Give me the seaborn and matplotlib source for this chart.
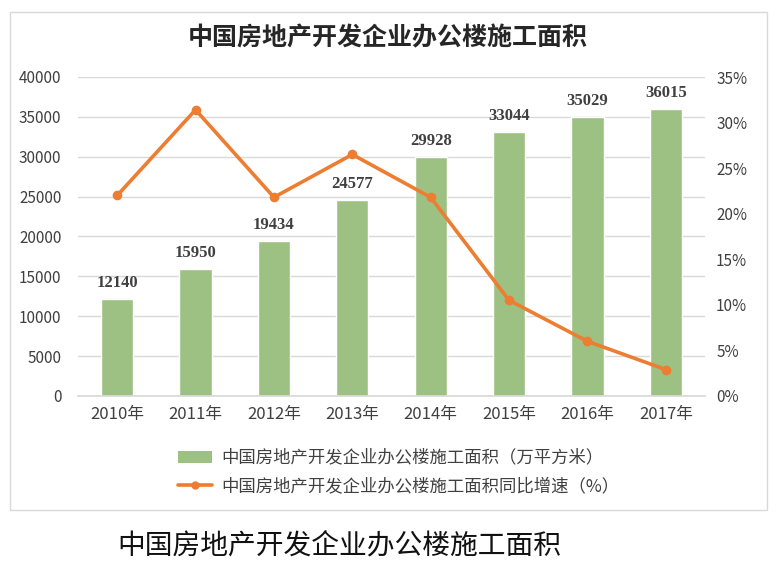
import matplotlib
matplotlib.use("Agg")
import matplotlib.pyplot as plt
import seaborn as sns
import pandas as pd
from matplotlib.patches import Rectangle, Patch
from matplotlib.lines import Line2D
from matplotlib.ticker import FuncFormatter, MultipleLocator

years = ["2010年", "2011年", "2012年", "2013年", "2014年", "2015年", "2016年", "2017年"]
area = [12140, 15950, 19434, 24577, 29928, 33044, 35029, 36015]
growth = [22.0, 31.4, 21.8, 26.5, 21.8, 10.5, 6.0, 2.9]

title = "中国房地产开发企业办公楼施工面积"
bar_label = "中国房地产开发企业办公楼施工面积（万平方米）"
line_label = "中国房地产开发企业办公楼施工面积同比增速（%）"

sns.set_theme(style="white")
plt.rcParams['font.family'] = ['Noto Sans CJK SC', 'DejaVu Sans']

GREEN = "#9DC183"
ORANGE = "#ED7D31"
GRID = "#D9D9D9"

df = pd.DataFrame({"year": years, "area": area, "growth": growth})

fig = plt.figure(figsize=(7.76, 5.71), dpi=100)
# outer chart frame
fig.patches.append(Rectangle((10/776, 1-510/571), 757/776, 498/571, transform=fig.transFigure,
                             fill=False, edgecolor="#D9D9D9", linewidth=1.0))

ax = fig.add_axes([78/776, 1-396/571, 627/776, 319/571])
sns.barplot(data=df, x="year", y="area", color=GREEN, width=0.41, ax=ax, saturation=1)
ax.set_ylim(0, 40000)
ax.yaxis.set_major_locator(MultipleLocator(5000))
ax.grid(axis="y", color=GRID, linewidth=1.0)
ax.set_axisbelow(True)
for s in ["top", "left", "right"]:
    ax.spines[s].set_visible(False)
ax.spines["bottom"].set_color(GRID)
ax.set_xlabel("")
ax.set_ylabel("")
ax.tick_params(axis="y", length=0, labelsize=11, pad=12, colors="#404040")
ax.tick_params(axis="x", length=0, labelsize=12, pad=7, colors="#404040")

for i, v in enumerate(area):
    ax.text(i, v + 1000, f"{v}", ha="center", va="bottom", fontsize=12, fontweight="bold",
            family=["Liberation Serif"], color="#404040")

ax2 = ax.twinx()
sns.pointplot(data=df, x="year", y="growth", color=ORANGE, ax=ax2, markers="o",
              markersize=5, linewidth=2.6)
ax2.set_ylim(0, 35)
ax2.yaxis.set_major_locator(MultipleLocator(5))
ax2.yaxis.set_major_formatter(FuncFormatter(lambda v, p: f"{int(v)}%"))
for s in ["top", "left", "right", "bottom"]:
    ax2.spines[s].set_visible(False)
ax2.set_ylabel("")
ax2.set_xlabel("")
ax2.tick_params(axis="y", length=0, labelsize=11, pad=8, colors="#404040")
ax.set_xlim(-0.5, 7.5)
ax2.set_xlim(-0.5, 7.5)

fig.text(0.5, 1-38/571, title, ha="center", va="center", fontsize=18, fontweight="bold", color="#262626")

handles = [Patch(facecolor=GREEN, edgecolor="none"),
           Line2D([0], [0], color=ORANGE, linewidth=2.6, marker="o", markersize=5)]
fig.legend(handles, [bar_label, line_label], loc="center left",
           bbox_to_anchor=(162/776, 1-472/571), frameon=False, fontsize=12.5,
           labelspacing=0.6, handlelength=2.0, handletextpad=0.5, labelcolor="#404040")

fig.text(117/776, 1-545/571, title, ha="left", va="center", fontsize=20, fontweight="light",
         color="#111111")

fig.savefig("out.png", dpi=100)
